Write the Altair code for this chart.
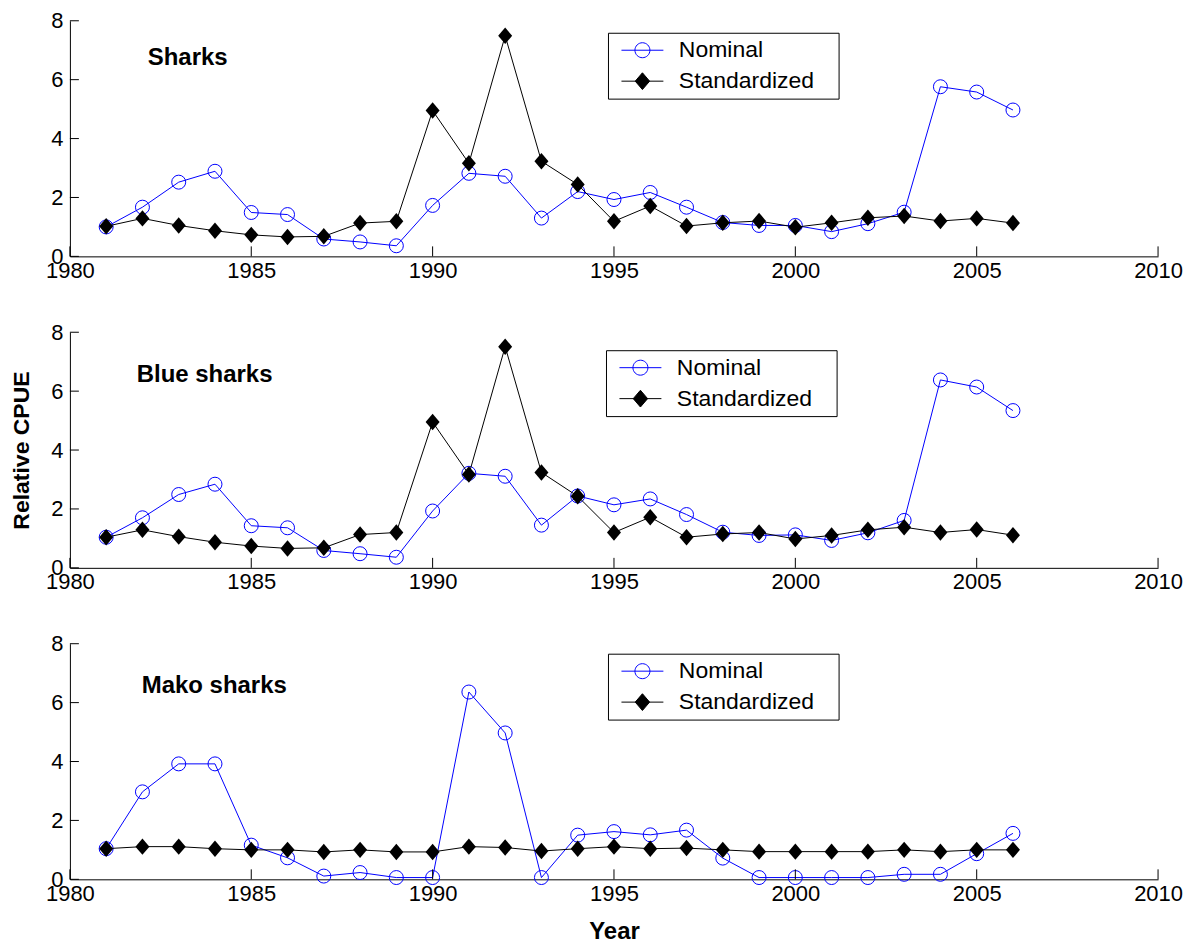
import altair as alt
import pandas as pd

years = list(range(1981, 2007))
series_names = ["Nominal", "Standardized"]
panel_names = ["Sharks", "Blue sharks", "Mako sharks"]
x_ticks = [1980, 1985, 1990, 1995, 2000, 2005, 2010]
y_ticks = [0, 2, 4, 6, 8]

sharks_nominal = [1.00, 1.67, 2.52, 2.89, 1.49, 1.42, 0.59, 0.49, 0.36, 1.73, 2.82, 2.72, 1.30,
                  2.20, 1.93, 2.17, 1.67, 1.15, 1.05, 1.05, 0.84, 1.11, 1.50, 5.76, 5.58, 4.97]
sharks_standardized = [1.02, 1.29, 1.05, 0.87, 0.73, 0.66, 0.68, 1.13, 1.19, 4.95, 3.16, 7.49, 3.23,
                       2.44, 1.19, 1.71, 1.03, 1.14, 1.20, 0.99, 1.14, 1.31, 1.37, 1.20, 1.29, 1.13]
blue_nominal = [1.04, 1.70, 2.49, 2.84, 1.43, 1.36, 0.59, 0.48, 0.36, 1.93, 3.21, 3.11, 1.45,
                2.44, 2.14, 2.34, 1.81, 1.21, 1.10, 1.12, 0.93, 1.19, 1.61, 6.38, 6.14, 5.34]
blue_standardized = [1.04, 1.29, 1.06, 0.87, 0.74, 0.66, 0.68, 1.13, 1.20, 4.95, 3.17, 7.51, 3.24,
                     2.43, 1.20, 1.72, 1.04, 1.15, 1.20, 0.98, 1.10, 1.29, 1.38, 1.20, 1.30, 1.11]
mako_nominal = [1.04, 2.97, 3.92, 3.92, 1.16, 0.73, 0.11, 0.23, 0.06, 0.06, 6.36, 4.97, 0.06,
                1.50, 1.62, 1.51, 1.67, 0.72, 0.06, 0.06, 0.06, 0.06, 0.17, 0.17, 0.87, 1.56]
mako_standardized = [1.04, 1.11, 1.11, 1.04, 1.00, 1.00, 0.93, 1.00, 0.93, 0.93, 1.11, 1.08, 0.96,
                     1.04, 1.11, 1.04, 1.06, 1.00, 0.94, 0.94, 0.94, 0.94, 1.00, 0.94, 1.00, 1.00]

FONT = "Liberation Sans"
W, H = 1090, 236
BLUE = "#0000ff"

DIAMOND = "M0,-1L0.85,0L0,1L-0.85,0Z"
LEG_NOM = "M-1.75,0L1.75,0M0.625,0A0.625,0.625,0,1,1,-0.625,0A0.625,0.625,0,1,1,0.625,0"
LEG_STD = "M-1.75,0L1.75,0M0,-0.7L0.6,0L0,0.7L-0.6,0Z"

x_scale = alt.Scale(domain=[1980, 2010], nice=False, zero=False)
y_scale = alt.Scale(domain=[0, 8], nice=False, zero=False)


def make_panel(name, nominal, standardized, lx, ly, tx, ty, ytitle, xtitle):
    n = len(years)
    df = pd.DataFrame({
        "Year": years + years,
        "CPUE": nominal + standardized,
        "Series": [series_names[0]] * n + [series_names[1]] * n,
    })
    xaxis_kw = dict(values=x_ticks, format="d", ticks=False, tickSize=0, grid=False,
                    labelFontSize=22, labelPadding=4, labelFlush=False, labelFont=FONT,
                    labelColor="black", domainColor="black", domainWidth=1)
    if xtitle:
        xaxis_kw.update(title="Year", titleFontSize=24, titleFontWeight="bold", titleFont=FONT,
                        titlePadding=15, titleColor="black")
    else:
        xaxis_kw.update(title=None)
    yaxis_kw = dict(values=y_ticks, ticks=False, tickSize=0, grid=False,
                    labelFontSize=22, labelPadding=7, labelFont=FONT, labelColor="black",
                    domainColor="black", domainWidth=1)
    if ytitle:
        yaxis_kw.update(title="Relative CPUE", titleFontSize=23, titleFontWeight="bold",
                        titleFont=FONT, titlePadding=17, titleColor="black")
    else:
        yaxis_kw.update(title=None)

    x_axis = alt.Axis(**xaxis_kw)
    y_axis = alt.Axis(**yaxis_kw)
    x_enc = alt.X("Year:Q", scale=x_scale, axis=x_axis)
    y_enc = alt.Y("CPUE:Q", scale=y_scale, axis=y_axis)

    base = alt.Chart(df)
    nom = base.transform_filter(alt.datum.Series == "Nominal")
    std = base.transform_filter(alt.datum.Series == "Standardized")

    nom_line = nom.mark_line(color=BLUE, strokeWidth=1).encode(x=x_enc, y=y_enc)
    nom_pts = nom.mark_point(shape="circle", size=196, filled=False, color=BLUE,
                             strokeWidth=1, opacity=1).encode(x=x_enc, y=y_enc)
    std_line = std.mark_line(color="black", strokeWidth=1).encode(x=x_enc, y=y_enc)
    std_pts = std.mark_point(shape=DIAMOND, size=272, filled=True, color="black",
                             opacity=1).encode(x=x_enc, y=y_enc)

    leg = alt.Legend(title=None, orient="none", legendX=lx, legendY=ly,
                     strokeColor="black", fillColor="white", padding=5,
                     labelFont=FONT, labelFontSize=23, labelColor="black",
                     symbolSize=576, symbolStrokeWidth=1, symbolOffset=17,
                     labelOffset=24, rowPadding=6,
                     labelExpr="datum.label + '\u00a0\u00a0\u00a0\u200b'")
    legend_layer = base.transform_filter("false").mark_point(opacity=1).encode(
        x=x_enc, y=y_enc,
        shape=alt.Shape("Series:N", scale=alt.Scale(domain=series_names, range=[LEG_NOM, LEG_STD]), legend=leg),
        stroke=alt.Stroke("Series:N", scale=alt.Scale(domain=series_names, range=[BLUE, "black"]), legend=leg),
        fill=alt.Fill("Series:N", scale=alt.Scale(domain=series_names, range=["transparent", "black"]), legend=leg),
    )

    ytick = alt.Chart(pd.DataFrame({"CPUE": y_ticks})).mark_rule(color="black", strokeWidth=1).encode(
        y=y_enc, x=alt.value(0), x2=alt.value(9))
    xtick = alt.Chart(pd.DataFrame({"Year": x_ticks})).mark_rule(color="black", strokeWidth=1).encode(
        x=x_enc, y=alt.value(H), y2=alt.value(H - 10))

    label = alt.Chart(pd.DataFrame({"t": [name]})).mark_text(
        align="left", baseline="middle", fontSize=24, fontWeight="bold", font=FONT, color="black"
    ).encode(x=alt.value(tx), y=alt.value(ty), text="t:N")

    return alt.layer(nom_line, nom_pts, std_line, std_pts, legend_layer, xtick, ytick, label).properties(
        width=W, height=H)


p1 = make_panel(panel_names[0], sharks_nominal, sharks_standardized, 539, 12, 78, 37.5, False, False)
p2 = make_panel(panel_names[1], blue_nominal, blue_standardized, 537, 18, 67, 43, True, False)
p3 = make_panel(panel_names[2], mako_nominal, mako_standardized, 539, 10, 72, 42.5, False, True)

chart = alt.vconcat(p1, p2, p3, spacing=40).resolve_scale(
    shape="independent", stroke="independent", fill="independent"
).properties(
    padding={"left": 2, "top": 1, "right": 5, "bottom": 0}
).configure_view(stroke=None)

chart.save("out.html", embed_options={"renderer": "svg", "actions": False})
